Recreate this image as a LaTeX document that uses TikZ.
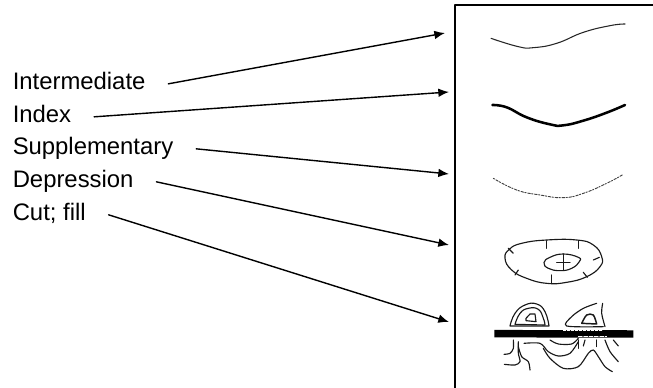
\documentclass[tikz,border=0pt]{standalone}
\usepackage{fontspec}
\setmainfont{Liberation Sans}
\usepackage{tikz}
\usetikzlibrary{arrows.meta}
\tikzset{
  every picture/.append style={line cap=round,line join=round},
  contour label/.style={font=\fontsize{17.9}{20}\selectfont,anchor=base west,inner sep=0pt,text height=13pt,text depth=3.75pt},
  contour arrow/.style={line width=1.05pt,-{Latex[length=8pt,width=6.5pt]}},
  map frame/.style={line width=1.3pt,line cap=butt},
  map ink/.style={line width=0.85pt,black!90},
  map fine/.style={line width=0.8pt,black!85}
}
\begin{document}
\begin{tikzpicture}[x=0.75pt,y=-0.75pt]
\useasboundingbox (0,0) rectangle (653,388);
\draw[map frame] (653,5) -- (455,5) -- (455,388);
% labels and their arrows
\foreach \name/\lab/\ypos/\hx/\hy in {
  inter/Intermediate/90/445/33,
  index/Index/123/449/92,
  suppl/Supplementary/155/449/174,
  depr/Depression/188/449/245,
  cutf/{Cut; fill}/221/449/322
}{
  \node[contour label] (\name) at (12.5,\ypos) {\lab};
  \coordinate (\name head) at (\hx,\hy);
  \draw[contour arrow] ([xshift=17pt]\name.east) -- (\name head);
}
% contour samples
\begin{scope}[shift={(450,0)},scale=1/3]
\draw[map fine] plot[smooth,tension=0.8] coordinates {(123,115) (205,140) (250,143) (320,130) (400,97) (480,77) (525,72)};
\draw[line width=1.9pt] plot[smooth,tension=0.8] coordinates {(127,315) (170,322) (230,352) (300,373) (340,376) (400,362) (470,338) (525,315)};
\draw[line width=0.7pt,black!75,dash pattern=on 1pt off 1.2pt on 2pt off 1pt] plot[smooth,tension=0.8] coordinates {(130,535) (200,570) (270,585) (340,593) (400,580) (470,550) (520,523)};
\end{scope}
\begin{scope}[shift={(450,220)},scale=1/3]
% depression
\draw[map ink] plot[smooth cycle,tension=0.8] coordinates {(165,115) (178,88) (215,70) (290,60) (380,60) (430,75) (455,110) (450,140) (410,170) (350,187) (290,190) (230,175) (185,150)};
\draw[map ink] plot[smooth cycle,tension=0.8] coordinates {(282,128) (300,112) (340,102) (385,112) (388,125) (365,145) (330,152) (295,145)};
\foreach \ax/\ay/\bx/\by in {175/85/190/100, 290/62/290/85, 385/62/385/85, 430/120/448/112, 400/157/412/172, 305/165/305/188, 205/150/195/165, 340/102/340/150, 320/128/360/128}{
  \draw[map ink] (\ax,\ay) -- (\bx,\by);
}
% cut and fill
\draw[line width=5.6pt,line cap=butt] (133,341) -- (550,342);
\draw[white,line width=0.4pt,dash pattern=on 3pt off 1pt] (385,350) -- (470,350);
\draw[white,line width=0.3pt,dash pattern=on 2pt off 1pt] (340,331) -- (460,331);
\draw[map ink] plot[smooth,tension=0.8] coordinates {(180,318) (195,280) (225,255) (260,252) (285,275) (297,318)} -- cycle;
\draw[map ink] plot[smooth,tension=0.8] coordinates {(195,313) (210,280) (235,265) (265,268) (280,295) (285,315)} -- cycle;
\draw[map ink] (228,295) -- (240,282) -- (255,282) -- (258,305) -- (228,302) -- cycle;
\draw[map ink] plot[smooth] coordinates {(460,320) (350,318) (365,290) (400,265) (440,250)};
\draw[map ink] plot[smooth] coordinates {(458,250) (455,280) (465,320)};
\draw[map ink,line width=1.1pt] plot[smooth] coordinates {(395,310) (410,285) (430,285) (440,312)} -- cycle;
\draw[map ink] plot[smooth] coordinates {(190,360) (190,385) (180,400) (162,403)};
\draw[map ink] plot[smooth] coordinates {(205,365) (205,400) (210,425) (195,435) (163,433)};
\draw[map ink] plot[smooth] coordinates {(222,370) (270,370) (295,395) (325,408) (360,400) (385,365)};
\draw[map ink] plot[smooth] coordinates {(205,380) (215,410) (235,425) (240,450)};
\draw[map ink] plot[smooth] coordinates {(280,385) (300,415) (340,445) (385,440) (415,400) (430,390) (445,410) (465,440) (487,455)};
\draw[map ink] plot[smooth] coordinates {(300,360) (325,372) (365,372) (385,355)};
\draw[map ink] plot[smooth] coordinates {(465,360) (480,395) (505,425)};
\foreach \ax/\ay/\bx/\by in {490/360/505/378, 385/360/385/385, 405/360/400/378, 440/360/440/380}{
  \draw[map ink] (\ax,\ay) -- (\bx,\by);
}
\end{scope}
\end{tikzpicture}
\end{document}
